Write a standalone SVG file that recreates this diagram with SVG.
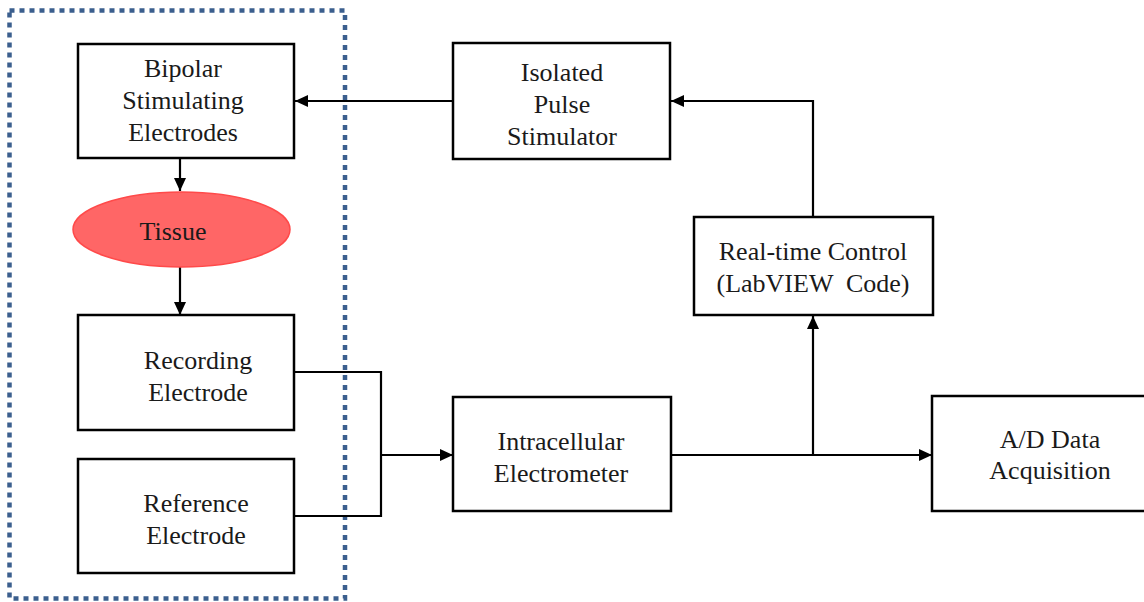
<svg xmlns="http://www.w3.org/2000/svg" width="1144" height="602" viewBox="0 0 1144 602">
  <style>
    .box { fill: #ffffff; stroke: #000000; stroke-width: 2.5; }
    .lbl { font-family: 'Liberation Serif', 'Times New Roman', serif; font-size: 26px; fill: #1a1a1a; text-anchor: middle; }
    .conn { fill: none; stroke: #000000; stroke-width: 2.2; }
  </style>
  <defs>
    <marker id="arr" markerUnits="userSpaceOnUse" markerWidth="14" markerHeight="12" refX="13" refY="6" orient="auto">
      <path d="M0,0 L13,6 L0,12 z" fill="#000000"/>
    </marker>
  </defs>
  <rect width="1144" height="602" fill="#ffffff"/>

  <g id="group-boundary">
    <rect x="9.5" y="10.5" width="335.5" height="588" fill="none" stroke="#3B5F8E" stroke-width="4.5" stroke-dasharray="5 5"/>
  </g>

  <g id="connectors">
    <path class="conn" d="M453,101 H295" marker-end="url(#arr)"/>
    <path class="conn" d="M180,158 V191" marker-end="url(#arr)"/>
    <path class="conn" d="M180,267 V315" marker-end="url(#arr)"/>
    <path class="conn" d="M294,372 H381 V516 H294"/>
    <path class="conn" d="M381,455 H453" stroke-width="2.8" marker-end="url(#arr)"/>
    <path class="conn" d="M671,455 H932" marker-end="url(#arr)"/>
    <path class="conn" d="M813,455 V316" marker-end="url(#arr)"/>
    <path class="conn" d="M813,217 V101 H671" marker-end="url(#arr)"/>
  </g>

  <g id="bipolar">
    <rect class="box" x="78" y="44" width="216" height="114"/>
    <text class="lbl" x="183" y="77">Bipolar</text>
    <text class="lbl" x="183" y="109">Stimulating</text>
    <text class="lbl" x="183" y="141">Electrodes</text>
  </g>

  <g id="tissue">
    <ellipse cx="181.5" cy="229.5" rx="108.5" ry="37.5" fill="#FF6666" stroke="#FF4A4A" stroke-width="1.5"/>
    <text class="lbl" x="173" y="240">Tissue</text>
  </g>

  <g id="recording">
    <rect class="box" x="78" y="315" width="216" height="115"/>
    <text class="lbl" x="198" y="369">Recording</text>
    <text class="lbl" x="198" y="401">Electrode</text>
  </g>

  <g id="reference">
    <rect class="box" x="78" y="459" width="216" height="114"/>
    <text class="lbl" x="196" y="512">Reference</text>
    <text class="lbl" x="196" y="544">Electrode</text>
  </g>

  <g id="isolated">
    <rect class="box" x="453" y="43" width="217" height="116"/>
    <text class="lbl" x="562" y="81">Isolated</text>
    <text class="lbl" x="562" y="113">Pulse</text>
    <text class="lbl" x="562" y="145">Stimulator</text>
  </g>

  <g id="intracellular">
    <rect class="box" x="453" y="397" width="218" height="114"/>
    <text class="lbl" x="561" y="450">Intracellular</text>
    <text class="lbl" x="561" y="482">Electrometer</text>
  </g>

  <g id="realtime">
    <rect class="box" x="694" y="217" width="239" height="98"/>
    <text class="lbl" x="813" y="260">Real-time Control</text>
    <text class="lbl" x="813" y="292" xml:space="preserve">(LabVIEW  Code)</text>
  </g>

  <g id="adaq">
    <rect class="box" x="932" y="396" width="220" height="115"/>
    <text class="lbl" x="1050" y="448">A/D Data</text>
    <text class="lbl" x="1050" y="479">Acquisition</text>
  </g>
</svg>
